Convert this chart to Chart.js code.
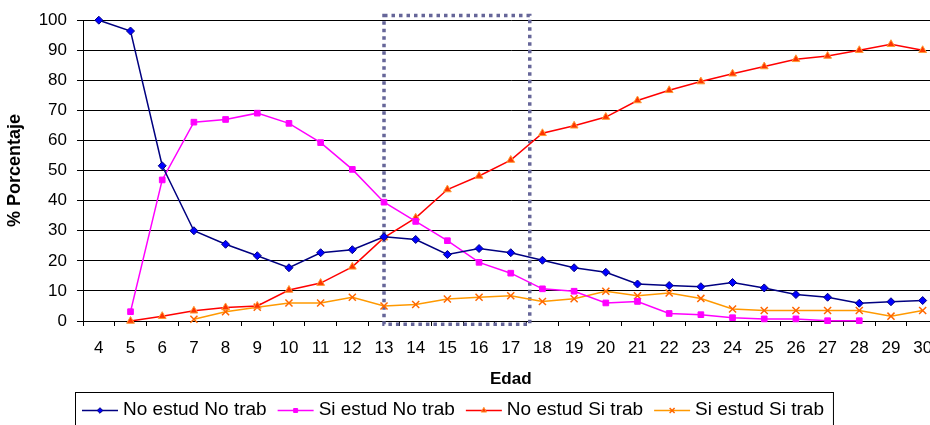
<!DOCTYPE html>
<html>
<head>
<meta charset="utf-8">
<script src="https://cdn.jsdelivr.net/npm/chart.js@4.4.1/dist/chart.umd.min.js"></script>
<style>
  html, body { margin: 0; padding: 0; background: #fff; overflow: hidden; }
  #wrap { width: 930px; height: 425px; overflow: hidden; position: relative; }
  canvas { display: block; }
</style>
</head>
<body>
<div id="wrap"><canvas id="chart" width="945" height="432"></canvas></div>
<script>
// Edad (años)
const ages = [4, 5, 6, 7, 8, 9, 10, 11, 12, 13, 14, 15, 16, 17, 18, 19, 20, 21, 22, 23, 24, 25, 26, 27, 28, 29, 30];

// Porcentaje por condición de estudio / trabajo
const noEstudNoTrab = [100, 96.4, 51.6, 30.0, 25.5, 21.7, 17.7, 22.7, 23.7, 28.0, 27.1, 22.1, 24.1, 22.7, 20.2, 17.7, 16.2, 12.3, 11.8, 11.4, 12.8, 11.0, 8.8, 7.9, 5.9, 6.4, 6.8];
const siEstudNoTrab = [null, 3.1, 46.9, 66.1, 67.0, 69.1, 65.7, 59.3, 50.4, 39.5, 33.1, 26.7, 19.5, 15.9, 10.7, 9.9, 6.0, 6.5, 2.5, 2.1, 1.1, 0.7, 0.7, 0.1, 0.1, null, null];
const noEstudSiTrab = [null, 0.0, 1.6, 3.4, 4.5, 5.0, 10.3, 12.6, 18.0, 27.7, 34.3, 43.7, 48.2, 53.5, 62.4, 64.9, 67.8, 73.3, 76.7, 79.6, 82.2, 84.6, 87.0, 88.1, 90.0, 92.0, 90.0];
const siEstudSiTrab = [null, null, null, 0.6, 3.1, 4.6, 6.0, 6.0, 7.9, 5.0, 5.5, 7.3, 7.9, 8.4, 6.5, 7.4, 9.9, 8.4, 9.3, 7.5, 4.0, 3.5, 3.5, 3.5, 3.5, 1.6, 3.5];

const seriesNames = ['No estud No trab', 'Si estud No trab', 'No estud Si trab', 'Si estud Si trab'];

// Tramo de edad resaltado (edad inicial, edad final) y rango vertical (%)
const highlightAges = [13, 17.6];
const highlightPct = [-1.1, 101.6];

const FONT = "'Liberation Sans', Arial, Helvetica, sans-serif";

// Rectángulo punteado que marca el tramo de edad
const highlightBox = {
  id: 'highlightBox',
  beforeDatasetsDraw(chart) {
    const { x, y } = chart.scales;
    const ctx = chart.ctx;
    const x0 = x.getPixelForValue(highlightAges[0] - ages[0]);
    const x1 = x.getPixelForValue(highlightAges[1] - ages[0]);
    const y0 = y.getPixelForValue(highlightPct[1]);
    const y1 = y.getPixelForValue(highlightPct[0]);
    ctx.save();
    ctx.strokeStyle = '#666699';
    ctx.lineWidth = 3.5;
    ctx.setLineDash([3.5, 4]);
    ctx.strokeRect(x0, y0, x1 - x0, y1 - y0);
    ctx.restore();
  }
};

// Leyenda enmarcada con línea y marcador de cada serie
const boxedLegend = {
  id: 'boxedLegend',
  afterDraw(chart, args, opts) {
    const ctx = chart.ctx;
    const datasets = chart.data.datasets;
    ctx.save();
    ctx.font = opts.font;
    const widths = datasets.map(ds => ctx.measureText(ds.label).width);
    const lineLen = 36, gap = 5, itemGap = 11, padL = 7, padR = 9;
    let total = padL + padR + itemGap * (datasets.length - 1);
    widths.forEach(w => { total += lineLen + gap + w; });
    const left = opts.left, top = opts.top, h = opts.height;
    ctx.fillStyle = '#fff';
    ctx.fillRect(left, top, total, h);
    ctx.strokeStyle = '#000';
    ctx.lineWidth = 1;
    ctx.strokeRect(left + 0.5, top + 0.5, total, h);
    let cx = left + padL;
    const ly = top + opts.lineOffset;
    datasets.forEach((ds, i) => {
      ctx.setLineDash([]);
      ctx.strokeStyle = ds.borderColor;
      ctx.lineWidth = ds.borderWidth;
      ctx.beginPath();
      ctx.moveTo(cx, ly);
      ctx.lineTo(cx + lineLen, ly);
      ctx.stroke();
      ctx.fillStyle = ds.pointBackgroundColor;
      ctx.strokeStyle = ds.pointBorderColor;
      ctx.lineWidth = ds.pointBorderWidth;
      if (Chart.helpers && Chart.helpers.drawPoint) {
        Chart.helpers.drawPoint(ctx, {
          pointStyle: ds.pointStyle,
          radius: ds.pointRadius * 0.7,
          borderWidth: ds.pointBorderWidth,
          rotation: 0
        }, cx + lineLen / 2, ly);
      }
      ctx.fillStyle = '#000';
      ctx.textAlign = 'left';
      ctx.textBaseline = 'alphabetic';
      ctx.fillText(ds.label, cx + lineLen + gap, top + opts.baselineOffset);
      cx += lineLen + gap + widths[i] + itemGap;
    });
    ctx.restore();
  }
};

new Chart(document.getElementById('chart'), {
  type: 'line',
  data: {
    labels: ages.map(String),
    datasets: [
      {
        label: seriesNames[0], data: noEstudNoTrab,
        borderColor: '#000080', borderWidth: 1.5,
        pointStyle: 'rectRot', pointRadius: 4,
        pointBackgroundColor: '#0000FF', pointBorderColor: '#000080', pointBorderWidth: 1,
        clip: false
      },
      {
        label: seriesNames[1], data: siEstudNoTrab,
        borderColor: '#FF00FF', borderWidth: 1.5,
        pointStyle: 'rect', pointRadius: 4,
        pointBackgroundColor: '#FF00FF', pointBorderColor: '#FF00FF', pointBorderWidth: 1,
        clip: false
      },
      {
        label: seriesNames[2], data: noEstudSiTrab,
        borderColor: '#FF0000', borderWidth: 1.5,
        pointStyle: 'triangle', pointRadius: 4.5,
        pointBackgroundColor: '#FF3300', pointBorderColor: '#FF9933', pointBorderWidth: 1,
        clip: false
      },
      {
        label: seriesNames[3], data: siEstudSiTrab,
        borderColor: '#FF9900', borderWidth: 1.5,
        pointStyle: 'crossRot', pointRadius: 5,
        pointBackgroundColor: '#FF6600', pointBorderColor: '#FF6600', pointBorderWidth: 1.5,
        clip: false
      }
    ]
  },
  options: {
    responsive: false,
    animation: false,
    devicePixelRatio: 1,
    layout: { padding: { left: 0, top: 18, right: 3, bottom: 37 } },
    elements: { line: { tension: 0 } },
    plugins: {
      legend: { display: false },
      tooltip: { enabled: false },
      boxedLegend: {
        font: "19px " + FONT,
        left: 75, top: 392, height: 35,
        lineOffset: 18.5, baselineOffset: 23
      }
    },
    scales: {
      x: {
        offset: true,
        grid: { offset: true, drawOnChartArea: false, drawTicks: true, tickLength: 5, color: '#000', lineWidth: 1 },
        border: { display: true, color: '#000', width: 1 },
        ticks: { color: '#000', font: { family: FONT, size: 17 }, padding: 12, maxRotation: 0, autoSkip: false },
        title: { display: true, text: 'Edad', color: '#000', font: { family: FONT, size: 17, weight: 'bold' }, padding: { top: 0, bottom: 5 } },
        afterFit(scale) { scale.height = 74; }
      },
      y: {
        min: 0, max: 100,
        grid: { color: '#000', lineWidth: 1, tickLength: 6 },
        border: { display: true, color: '#000', width: 1 },
        ticks: { stepSize: 10, color: '#000', font: { family: FONT, size: 17 }, padding: 10 },
        title: { display: true, text: '% Porcentaje', color: '#000', font: { family: FONT, size: 18, weight: 'bold' }, padding: { top: 4, bottom: 0 } },
        afterFit(scale) { scale.width = 83; }
      }
    }
  },
  plugins: [highlightBox, boxedLegend]
});
</script>
</body>
</html>
